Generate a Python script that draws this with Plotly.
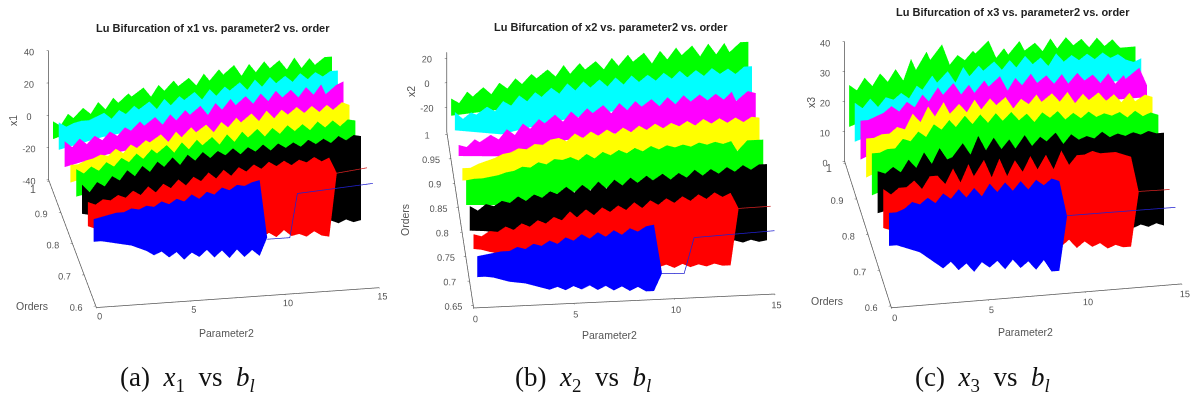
import math
import plotly.graph_objects as go

orders = [1.0, 0.95, 0.9, 0.85, 0.8, 0.75, 0.7, 0.65]
colors = ["#00ff00", "#00ffff", "#ff00ff", "#ffff00", "#00ff00", "#000000", "#ff0000", "#0000ff"]

p_grid = [0.2, 0.6, 1.0, 1.4, 1.8, 2.2, 2.6, 3.0, 3.4, 3.8, 4.2, 4.6, 5.0, 5.4, 5.8, 6.2, 6.6, 7.0, 7.4, 7.8,
          8.2, 8.6, 9.0, 9.4, 9.8, 10.2, 10.6, 11.0, 11.4, 11.8, 12.2, 12.6, 13.0, 13.4, 13.8, 14.2, 14.6, 15.0]
p_hidden = [0.2, 2.5, 5, 7.5, 10, 12.5, 15]
p_black_lo = [0.2, 1, 2, 5, 10, 13.4, 13.8, 14.2, 14.6, 15]
p_red_lo = [0.2, 0.6, 1, 3, 6, 9, 9.4, 9.8, 10.2, 10.6, 11, 11.4, 11.8, 12.2, 12.6, 13, 13.4]

# ---- x1 ----
a_top_g1 = [-3,-6,1,-3,4,0,7,2,9,4,11,6,14,8,15,10,17,11,18,13,20,14,22,16,24,17,24,18,25,19,25,19,26,19,25,19,25,25]
a_top_c = [6,3,5,6,6,8,10,6,11,8,13,9,15,10,16,11,17,13,19,14,20,15,21,17,23,18,24,19,25,20,25,21,26,22,26,23,26,26]
a_top_m = [4,0,5,1,6,3,8,5,10,7,13,8,15,10,16,11,18,13,20,14,21,16,23,17,24,19,25,20,26,21,26,21,27,22,28,18,27,29]
a_top_y = [-1,-1,1,2,4,3,7,4,9,6,11,8,14,9,15,10,17,12,18,13,19,15,21,16,23,18,24,19,24,20,25,21,25,21,25,21,26,24]
a_top_g2 = [6,3,7,4,9,6,11,8,13,9,15,11,17,12,18,13,19,14,20,15,21,16,22,17,23,18,23,19,24,20,24,20,25,21,25,21,25,24]
a_top_k = [6,1,7,4,10,7,13,9,15,11,17,13,19,14,20,16,21,17,21,18,22,18,22,19,23,19,23,20,23,20,24,21,24,21,25,22,25,24]
a_top_r = [5,3,6,5,8,6,10,7,12,8,13,10,15,11,16,13,18,14,19,15,20,17,21,18,22,19,22,19,22,20,23,20,22,12]
a_top_b = [4,5,6,7,7,9,8,10,9,12,10,13,11,15,12,16,14,18,16,19,18,20,21,-15]
a_lo_g1 = [-14,-6,-2,2,5,7,10]
a_lo_c = [-11,-5,-1,3,6,8,10]
a_lo_m = [-12,-6,-2,2,5,7,9]
a_lo_y = [-12,-5,-1,2,5,7,8]
a_lo_g2 = [-11,-6,-2,0,3,5,7]
a_lo_k = [-12,-14,-18,-25,-28,-27,-29,-27,-29,-28]
a_lo_r = [-10,-12,-14,-19,-23,-25,-25,-22,-25,-21,-25,-24,-26,-23,-26,-27,12]
a_lo_b = [-10,-10,-11,-12,-13,-14,-16,-18,-21,-19,-23,-20,-25,-21,-24,-20,-25,-21,-26,-21,-26,-22,-26,-15]
a_line_b_p, a_line_b_z = [9.4, 10.6, 11, 15], [-16, -16, 11, 14]
a_line_r_p, a_line_r_z = [13.4, 15], [12, 14]

# ---- x2 ----
b_top_g1 = [-11,-15,-6,-12,-3,-9,0,-5,3,-3,6,0,9,3,12,3,13,5,14,7,16,8,18,9,19,10,20,12,22,13,23,14,24,15,24,12,24,24]
b_top_c = [-2,-8,-3,-6,1,-3,5,1,9,4,11,6,14,9,17,11,18,12,19,13,20,14,21,15,21,16,22,17,23,17,23,18,24,19,23,18,24,24]
b_top_m = [-9,-11,-5,-9,-2,-6,2,-3,6,1,9,4,12,6,14,8,16,10,18,11,19,13,20,14,21,15,22,16,23,17,23,18,23,18,24,10,24,22]
b_top_y = [-8,-8,-5,-3,-1,2,3,6,5,9,8,12,13,10,16,12,17,13,18,14,19,15,20,16,21,17,21,18,22,18,23,19,23,19,23,19,23,22]
b_top_g2 = [2,3,3,4,5,7,8,11,10,14,12,16,15,17,14,19,15,20,17,21,18,22,19,23,20,23,21,23,21,24,22,24,22,24,13,24,24,24]
b_top_k = [1,-3,2,0,4,2,7,3,8,5,10,7,13,8,14,9,16,10,17,12,18,13,19,14,20,15,20,16,22,17,22,18,23,19,24,20,24,24]
b_top_r = [-2,-4,0,-1,3,0,5,2,7,4,9,6,13,7,14,9,15,11,16,12,18,13,19,15,20,16,21,17,22,18,23,19,22,9]
b_top_b = [0,1,2,3,3,6,4,8,6,10,7,12,9,14,10,15,11,16,12,17,14,18,19,-21]
b_lo_g1 = [-25,-22,-15,-10,-8,-6,-4]
b_lo_c = [-17,-22,-14,-8,-6,-4,-3]
b_lo_m = [-18,-20,-10,-6,-4,-4,-11]
b_lo_y = [-18,-18,-8,-5,-4,-4,-4]
b_lo_g2 = [-18,-20,-12,-9,-6,-5,-4]
b_lo_k = [-19,-20,-24,-30,-36,-37,-39,-37,-39,-38]
b_lo_r = [-14,-15,-17,-24,-30,-34,-36,-34,-37,-34,-37,-35,-37,-35,-37,-37,9]
b_lo_b = [-17,-17,-18,-20,-22,-23,-24,-26,-28,-30,-28,-31,-28,-31,-28,-32,-29,-33,-30,-34,-31,-35,-35,-21]
b_line_b_p, b_line_b_z = [9.4, 10.5, 11, 15], [-21, -22, 7, 9.6]
b_line_r_p, b_line_r_z = [13.4, 15], [9, 9.6]

# ---- x3 ----
c_top_g1 = [26,24,28,25,29,26,30,26,33,27,35,29,37,30,33,31,34,31,37,31,34,30,36,31,35,32,36,32,36,33,35,32,35,32,34,31,31,31]
c_top_c = [26,24,27,24,27,26,28,26,30,28,33,29,34,30,35,31,35,32,36,33,36,33,37,34,36,33,37,34,36,34,36,34,36,34,35,33,32,33]
c_top_m = [26,26,27,28,30,28,31,29,33,30,35,31,36,32,35,31,36,32,37,32,36,33,37,33,36,33,36,32,36,33,35,32,35,31,34,28,36,30]
c_top_y = [26,26,27,27,29,28,33,30,35,31,36,31,35,32,36,32,36,33,36,32,35,33,36,32,36,33,36,32,35,32,35,32,34,31,34,30,33,32]
c_top_g2 = [27,27,28,28,31,30,33,31,35,33,36,33,37,34,37,34,37,34,37,34,36,33,36,34,36,33,35,33,35,33,34,33,34,32,34,32,33,32]
c_top_k = [27,26,28,26,30,27,32,28,33,29,30,34,30,36,31,35,31,34,30,35,31,34,32,35,31,34,32,33,32,34,32,33,32,33,32,33,32,32]
c_top_r = [27,25,27,27,29,26,30,30,27,32,27,33,27,34,28,34,28,33,29,34,29,34,29,35,30,33,33,34,33,33,33,32,31,19]
c_top_b = [25,25,26,28,27,29,27,30,28,31,28,31,28,32,29,32,29,32,29,32,30,32,31,19]
c_lo_g1 = [12,17,23,25,25,25,25]
c_lo_c = [13,18,24,25,26,26,26]
c_lo_m = [13,19,24,25,26,26,26]
c_lo_y = [13,19,24,25,25,25,25]
c_lo_g2 = [13,18,22,23,23,23,23]
c_lo_k = [13,14,13,10,5,1,2,1,2,1]
c_lo_r = [14,13,13,10,6,3,3,5,2,4,2,3,1,2,1,1,19]
c_lo_b = [14,14,13,12,11,9,7,5,7,4,6,3,6,4,6,3,6,3,5,2,5,1,1,19]
c_line_b_p, c_line_b_z = [9.3, 15], [19.2, 19]
c_line_r_p, c_line_r_z = [13.4, 15], [19.2, 19]

x_ticks = [0, 5, 10, 15]
a_z_vals, a_z_text = [-40, -20, 0, 20, 40], ["-40", "-20", "0", "20", "40"]
b_z_vals, b_z_text = [-20, 0, 20], ["-20", "0", "20"]
c_z_vals, c_z_text = [0, 10, 20, 30, 40], ["0", "10", "20", "30", "40"]
a_y_vals, a_y_text = [.6, .7, .8, .9, 1.0], ["0.6", "0.7", "0.8", "0.9", ""]
b_y_vals, b_y_text = [.65, .7, .75, .8, .85, .9, .95, 1.0], ["0.65", "0.7", "0.75", "0.8", "0.85", "0.9", "0.95", "1"]
c_y_vals, c_y_text = [.6, .7, .8, .9, 1.0], ["0.6", "0.7", "0.8", "0.9", ""]

W, H = 1194, 398
TXT = "#555555"


def camera(phi, th, dz, dx):
    """Orthographic view at azimuth phi / elevation th, panned on screen by dx (right) and dz (up)."""
    a, t = math.radians(phi), math.radians(th)
    cx, cy = -dx * math.cos(a), -dx * math.sin(a)
    return dict(projection=dict(type="orthographic"), up=dict(x=0, y=0, z=1),
                center=dict(x=cx, y=cy, z=-dz),
                eye=dict(x=cx + 2 * math.sin(a) * math.cos(t), y=cy - 2 * math.cos(a) * math.cos(t),
                         z=-dz + 2 * math.sin(t)))


def ribbon(pt, zt, pb, zb, q, color, scene):
    nt, nb = len(zt), len(zb)
    xs = list(pt[:nt]) + list(pb[:nb])
    zs = list(zt) + list(zb)
    i, j, k = [], [], []
    a, b = 0, 0
    while a < nt - 1 or b < nb - 1:
        if b >= nb - 1 or (a < nt - 1 and pt[a + 1] <= pb[b + 1]):
            i.append(a); j.append(a + 1); k.append(nt + b); a += 1
        else:
            i.append(a); j.append(nt + b + 1); k.append(nt + b); b += 1
    return go.Mesh3d(x=xs, y=[q] * len(xs), z=zs, i=i, j=j, k=k, color=color, flatshading=True,
                     lighting=dict(ambient=1, diffuse=0, specular=0, fresnel=0), scene=scene, hoverinfo="skip")


panels = [
    dict(sc="scene", dom_x=[0, .333], phi=-9.2, th=25.7, dz=.1663, dx=.0749,
         zr=[-40, 40], zv=a_z_vals, zt=a_z_text, yr=[.595, 1.005], yv=a_y_vals, yt=a_y_text, asp=(1.44, 1.5, .72),
         tops=[a_top_g1, a_top_c, a_top_m, a_top_y, a_top_g2, a_top_k, a_top_r, a_top_b],
         los=[a_lo_g1, a_lo_c, a_lo_m, a_lo_y, a_lo_g2, a_lo_k, a_lo_r, a_lo_b],
         lines=[(a_line_r_p, a_line_r_z, .7, "#d02020"), (a_line_b_p, a_line_b_z, .65, "#2020d0")]),
    dict(sc="scene2", dom_x=[.333, .667], phi=-4.8, th=33.4, dz=.1555, dx=.0669,
         zr=[-40, 24.8], zv=b_z_vals, zt=b_z_text, yr=[.645, 1.005], yv=b_y_vals, yt=b_y_text, asp=(1.519, 1.613, .479),
         tops=[b_top_g1, b_top_c, b_top_m, b_top_y, b_top_g2, b_top_k, b_top_r, b_top_b],
         los=[b_lo_g1, b_lo_c, b_lo_m, b_lo_y, b_lo_g2, b_lo_k, b_lo_r, b_lo_b],
         lines=[(b_line_r_p, b_line_r_z, .7, "#d02020"), (b_line_b_p, b_line_b_z, .65, "#2020d0")]),
    dict(sc="scene3", dom_x=[.667, 1], phi=-9.2, th=30.5, dz=.2115, dx=.0914,
         zr=[0, 40], zv=c_z_vals, zt=c_z_text, yr=[.595, 1.005], yv=c_y_vals, yt=c_y_text, asp=(1.478, 1.468, .699),
         tops=[c_top_g1, c_top_c, c_top_m, c_top_y, c_top_g2, c_top_k, c_top_r, c_top_b],
         los=[c_lo_g1, c_lo_c, c_lo_m, c_lo_y, c_lo_g2, c_lo_k, c_lo_r, c_lo_b],
         lines=[(c_line_r_p, c_line_r_z, .7, "#d02020"), (c_line_b_p, c_line_b_z, .65, "#2020d0")]),
]

fig = go.Figure()
for P in panels:
    for idx, (q, col) in enumerate(zip(orders, colors)):
        top, lo = P["tops"][idx], P["los"][idx]
        if idx < 5:
            pb = p_hidden
        elif idx == 5:
            pb = p_black_lo
        elif idx == 6:
            pb = p_red_lo
        else:
            pb = p_grid
        fig.add_trace(ribbon(p_grid, top, pb, lo, q, col, P["sc"]))
    for lp, lz, q, col in P["lines"]:
        fig.add_trace(go.Scatter3d(x=lp, y=[q] * len(lp), z=lz, mode="lines", line=dict(color=col, width=1.5),
                                   scene=P["sc"], hoverinfo="skip"))
    ax = dict(showgrid=False, showbackground=False, showline=True, linecolor="#555555", linewidth=1.5,
              ticks="outside", tickcolor="#555555", ticklen=2, tickangle=0, tickmode="array",
              tickfont=dict(size=10.5, color=TXT, family="Liberation Sans"), showspikes=False, zeroline=False,
              title=dict(text=""))
    fig.update_layout({P["sc"]: dict(
        domain=dict(x=P["dom_x"], y=[0, 1]),
        xaxis=dict(ax, range=[0, 15], tickvals=x_ticks, ticktext=[str(v) for v in x_ticks]),
        yaxis=dict(ax, range=P["yr"], tickvals=P["yv"], ticktext=P["yt"]),
        zaxis=dict(ax, range=P["zr"], tickvals=P["zv"], ticktext=P["zt"]),
        aspectmode="manual",
        aspectratio=dict(x=P["asp"][0], y=P["asp"][1], z=P["asp"][2]),
        camera=camera(P["phi"], P["th"], P["dz"], P["dx"]))})


def note(text, x, y, size=10.5, color=TXT, family="Liberation Sans", angle=0):
    fig.add_annotation(text=text, x=x / W, y=1 - y / H, xref="paper", yref="paper", showarrow=False, textangle=angle,
                       xanchor="center", yanchor="middle", font=dict(size=size, color=color, family=family))


note("<b>Lu Bifurcation of x1 vs. parameter2 vs. order</b>", 213, 28, 11, "#222222")
note("<b>Lu Bifurcation of x2 vs. parameter2 vs. order</b>", 611, 27, 11, "#222222")
note("<b>Lu Bifurcation of x3 vs. parameter2 vs. order</b>", 1013, 12, 11, "#222222")
note("x1", 13, 121, angle=-90)
note("x2", 411, 92, angle=-90)
note("x3", 811, 103, angle=-90)
note("Orders", 32, 306)
note("Orders", 405, 220, angle=-90)
note("Orders", 827, 301)
note("Parameter2", 226, 333)
note("Parameter2", 609, 335)
note("Parameter2", 1025, 332)
note("1", 33, 189)
note("1", 829, 168)
SER = "Liberation Serif"
note("(a)&nbsp; <i>x</i><sub>1</sub>&nbsp; vs&nbsp; <i>b</i><sub><i>l</i></sub>", 187, 379, 27, "#111111", SER)
note("(b)&nbsp; <i>x</i><sub>2</sub>&nbsp; vs&nbsp; <i>b</i><sub><i>l</i></sub>", 583, 379, 27, "#111111", SER)
note("(c)&nbsp; <i>x</i><sub>3</sub>&nbsp; vs&nbsp; <i>b</i><sub><i>l</i></sub>", 982, 379, 27, "#111111", SER)

fig.update_layout(width=W, height=H, margin=dict(l=0, r=0, t=0, b=0), showlegend=False, paper_bgcolor="white")
fig.write_html("out.html", config={"displayModeBar": False}, post_script="document.body.style.margin='0';")
